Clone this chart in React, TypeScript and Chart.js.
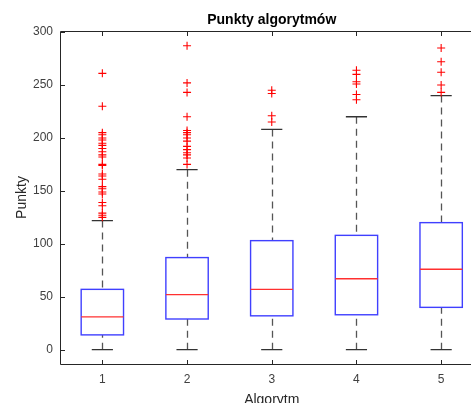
import React, { useEffect, useRef } from 'react';
import { Chart, registerables } from 'chart.js';

Chart.register(...registerables);

const categories = [1, 2, 3, 4, 5];
const categoryLabels = ['1', '2', '3', '4', '5'];
const yTicks = [0, 50, 100, 150, 200, 250, 300];

const lowerWhisker = [0, 0, 0, 0, 0];
const q1 = [14, 29, 32, 33, 40];
const median = [31, 52, 57, 67, 76];
const q3 = [57, 87, 103, 108, 120];
const upperWhisker = [122, 170, 208, 220, 240];

const outliers1 = [261, 230, 205, 203, 200, 198, 195, 193, 190, 187, 184, 182, 175, 174, 166, 164, 161, 154, 152, 149, 147, 139, 136, 129, 127, 125];
const outliers2 = [287, 252, 243, 220, 207, 205, 203, 200, 197, 192, 189, 186, 184, 181, 175];
const outliers3 = [245, 242, 221, 215];
const outliers4 = [264, 260, 253, 251, 241, 236];
const outliers5 = [285, 272, 262, 250, 243];
const outlierGroups = [outliers1, outliers2, outliers3, outliers4, outliers5];

const FONT = "'Liberation Sans', Arial, Helvetica, sans-serif";
const BOX_HALF = 0.25;
const CAP_HALF = 0.125;

const boxPlugin = {
  id: 'matlabBoxplot',
  beforeDatasetsDraw(chart: any) {
    const { ctx, chartArea: a, scales } = chart;
    const x = scales.x;
    const y = scales.y;
    ctx.save();
    ctx.beginPath();
    ctx.rect(a.left, a.top, a.right - a.left, a.bottom - a.top);
    ctx.clip();
    categories.forEach((c, i) => {
      const xc = Math.round(x.getPixelForValue(c)) + 0.5;
      const xl = x.getPixelForValue(c - BOX_HALF);
      const xr = x.getPixelForValue(c + BOX_HALF);
      const cl = x.getPixelForValue(c - CAP_HALF);
      const cr = x.getPixelForValue(c + CAP_HALF);
      const yLW = y.getPixelForValue(lowerWhisker[i]);
      const yQ1 = y.getPixelForValue(q1[i]);
      const yMed = y.getPixelForValue(median[i]);
      const yQ3 = y.getPixelForValue(q3[i]);
      const yUW = y.getPixelForValue(upperWhisker[i]);

      // whiskers (dashed)
      ctx.strokeStyle = '#555555';
      ctx.lineWidth = 1.3;
      ctx.setLineDash([7, 5]);
      ctx.beginPath();
      ctx.moveTo(xc, yUW);
      ctx.lineTo(xc, yQ3);
      ctx.stroke();
      ctx.beginPath();
      ctx.moveTo(xc, yLW);
      ctx.lineTo(xc, yQ1);
      ctx.stroke();
      ctx.setLineDash([]);

      // caps
      ctx.strokeStyle = '#333333';
      ctx.lineWidth = 1.3;
      ctx.beginPath();
      ctx.moveTo(cl, yUW);
      ctx.lineTo(cr, yUW);
      ctx.moveTo(cl, yLW);
      ctx.lineTo(cr, yLW);
      ctx.stroke();

      // box
      ctx.strokeStyle = '#4040ff';
      ctx.lineWidth = 1.4;
      ctx.strokeRect(xl, yQ3, xr - xl, yQ1 - yQ3);

      // median
      ctx.strokeStyle = '#ff3030';
      ctx.lineWidth = 1.4;
      ctx.beginPath();
      ctx.moveTo(xl, yMed);
      ctx.lineTo(xr, yMed);
      ctx.stroke();
    });
    ctx.restore();
  },
  afterDraw(chart: any) {
    const { ctx, chartArea: a, scales } = chart;
    const x = scales.x;
    const y = scales.y;
    const L = Math.round(a.left) + 0.5;
    const R = Math.round(a.right) - 0.5;
    const T = Math.round(a.top) + 0.5;
    const B = Math.round(a.bottom) + 0.5;
    ctx.save();
    ctx.strokeStyle = '#262626';
    ctx.lineWidth = 1;
    ctx.beginPath();
    ctx.moveTo(L, T);
    ctx.lineTo(R, T);
    ctx.lineTo(R, B);
    ctx.lineTo(L, B);
    ctx.closePath();
    ctx.stroke();
    const tl = 4.5;
    ctx.beginPath();
    categories.forEach((c) => {
      const px = Math.round(x.getPixelForValue(c)) + 0.5;
      ctx.moveTo(px, B);
      ctx.lineTo(px, B - tl);
      ctx.moveTo(px, T);
      ctx.lineTo(px, T + tl);
    });
    yTicks.forEach((v) => {
      const py = Math.round(y.getPixelForValue(v)) + 0.5;
      ctx.moveTo(L, py);
      ctx.lineTo(L + tl, py);
      ctx.moveTo(R, py);
      ctx.lineTo(R - tl, py);
    });
    ctx.stroke();
    ctx.restore();
  },
};

export default function App() {
  const canvasRef = useRef<HTMLCanvasElement | null>(null);

  useEffect(() => {
    if (!canvasRef.current) return;
    const points: { x: number; y: number }[] = [];
    outlierGroups.forEach((group, i) => {
      group.forEach((v) => points.push({ x: categories[i], y: v }));
    });

    const chart = new Chart(canvasRef.current, {
      type: 'scatter',
      data: {
        datasets: [
          {
            label: 'Outliers',
            data: points,
            pointStyle: 'cross',
            radius: 4,
            borderColor: '#ff0000',
            backgroundColor: '#ff0000',
            borderWidth: 1.1,
          },
        ],
      },
      options: {
        animation: false,
        responsive: false,
        devicePixelRatio: 1,
        layout: { padding: { left: 0, right: 16.5, top: 0, bottom: 0 } },
        plugins: {
          legend: { display: false },
          tooltip: { enabled: false },
          title: {
            display: true,
            fullSize: false,
            text: 'Punkty algorytmów',
            color: '#000000',
            font: { family: FONT, size: 14, weight: 'bold' },
            padding: { top: 11.6, bottom: 2.6 },
          },
        },
        scales: {
          x: {
            type: 'linear',
            min: 0.5,
            max: 5.5,
            afterBuildTicks: (s: any) => {
              s.ticks = categories.map((v) => ({ value: v }));
            },
            afterFit: (s: any) => {
              s.height = 56;
            },
            ticks: {
              callback: (v: any) => categoryLabels[categories.indexOf(Number(v))] ?? '',
              padding: 8.3,
              color: '#404040',
              font: { family: FONT, size: 12 },
              maxRotation: 0,
              autoSkip: false,
            },
            grid: { display: false, drawTicks: false },
            border: { display: false },
            title: {
              display: true,
              text: 'Algorytm',
              color: '#262626',
              font: { family: FONT, size: 14 },
              padding: { top: 0, bottom: 11.6 },
            },
          },
          y: {
            type: 'linear',
            min: -13.5,
            max: 301,
            afterBuildTicks: (s: any) => {
              s.ticks = yTicks.map((v) => ({ value: v }));
            },
            afterFit: (s: any) => {
              s.width = 60;
            },
            ticks: {
              callback: (v: any) => String(v),
              padding: 7,
              color: '#404040',
              font: { family: FONT, size: 12 },
            },
            grid: { display: false, drawTicks: false },
            border: { display: false },
            title: {
              display: true,
              text: 'Punkty',
              color: '#262626',
              font: { family: FONT, size: 14 },
              padding: { top: 13.6, bottom: 0 },
            },
          },
        },
      },
      plugins: [boxPlugin],
    } as any);

    return () => chart.destroy();
  }, []);

  return (
    <div
      style={{
        position: 'fixed',
        left: 0,
        top: 0,
        width: 471,
        height: 403,
        overflow: 'hidden',
        background: '#ffffff',
      }}
    >
      <canvas ref={canvasRef} width={500} height={420} style={{ display: 'block' }} />
    </div>
  );
}
